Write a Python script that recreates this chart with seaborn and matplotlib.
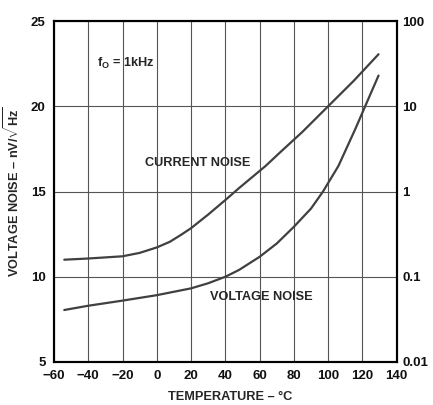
import matplotlib
matplotlib.use("Agg")
import matplotlib.pyplot as plt
import seaborn as sns
import pandas as pd

# curve readings (temperature in C, left axis value)
cur_temp = [-54, -40, -20, -10, 0, 7.6, 14, 20, 30, 40, 48, 63.5, 72, 85, 100, 115, 129.4]
cur_val = [11.0, 11.07, 11.2, 11.4, 11.72, 12.05, 12.45, 12.85, 13.65, 14.5, 15.2, 16.5, 17.3, 18.5, 20.0, 21.5, 23.05]
volt_temp = [-54, -40, -20, 0, 20, 30, 40, 48, 60, 70, 80, 90, 97, 100, 106, 111, 116, 121.6, 129.4]
volt_val = [8.05, 8.3, 8.6, 8.92, 9.32, 9.62, 10.0, 10.4, 11.17, 11.95, 12.93, 14.0, 15.0, 15.5, 16.5, 17.6, 18.7, 20.0, 21.8]

x_ticks = [-60, -40, -20, 0, 20, 40, 60, 80, 100, 120, 140]
left_ticks = [5, 10, 15, 20, 25]
right_ticks = [0.01, 0.1, 1, 10, 100]
right_labels = ["0.01", "0.1", "1", "10", "100"]

sns.set_style("white")
plt.rcParams['font.family'] = ['Liberation Sans', 'DejaVu Sans']
plt.rcParams['font.weight'] = 'bold'
plt.rcParams['mathtext.fontset'] = 'custom'
plt.rcParams['mathtext.rm'] = 'Liberation Sans:bold'
plt.rcParams['mathtext.bf'] = 'Liberation Sans:bold'
plt.rcParams['mathtext.it'] = 'Liberation Sans:bold'

df = pd.concat([
    pd.DataFrame({"temp": cur_temp, "val": cur_val, "curve": "current"}),
    pd.DataFrame({"temp": volt_temp, "val": volt_val, "curve": "voltage"}),
])

fig = plt.figure(figsize=(4.33, 4.05), dpi=100)
ax = fig.add_axes([54/433, 43/405, 342.7/433, 341/405])

sns.lineplot(data=df, x="temp", y="val", hue="curve", palette=["#404040", "#404040"],
             linewidth=1.6, legend=False, ax=ax, sort=False)

ax.set_xlim(-60, 140)
ax.set_ylim(5, 25)
ax.set_xticks(x_ticks)
ax.set_xticklabels([str(t).replace('-', '\u2212') for t in x_ticks])
ax.set_yticks(left_ticks)
ax.grid(True, color="#555555", linewidth=0.8)
for s in ax.spines.values():
    s.set_color("black")
    s.set_linewidth(1.5)
ax.tick_params(length=0, labelsize=9.5, pad=6, colors="#111111")
ax.set_xlabel("")
ax.set_ylabel("VOLTAGE NOISE \u2013 nV/$\\sqrt{\\mathrm{Hz}}$", fontsize=9.2,
              fontweight='bold')
ax.yaxis.set_label_coords(-0.093, 0.5)

ax2 = ax.twinx()
ax2.set_yscale("log")
ax2.set_ylim(0.01, 100)
ax2.set_yticks(right_ticks)
ax2.set_yticklabels(right_labels)
ax2.minorticks_off()
ax2.tick_params(length=0, labelsize=9.5, pad=4, colors="#111111")
for s in ax2.spines.values():
    s.set_color("black")
    s.set_linewidth(1.5)
ax2.grid(False)

ax.text(-35, 22.5, "$\\mathrm{f_O}$ = 1kHz", fontsize=9.2, fontweight='bold', va='center')
ax.text(-6.9, 16.66, "CURRENT NOISE", fontsize=9.2, fontweight='bold', va='center')
ax.text(31.2, 8.8, "VOLTAGE NOISE", fontsize=9.2, fontweight='bold', va='center')

fig.text(230/433, 0.02, "TEMPERATURE \u2013 \u00b0C", fontsize=9.2, fontweight='bold',
         ha='center', va='center')

fig.savefig("out.png", dpi=100)
